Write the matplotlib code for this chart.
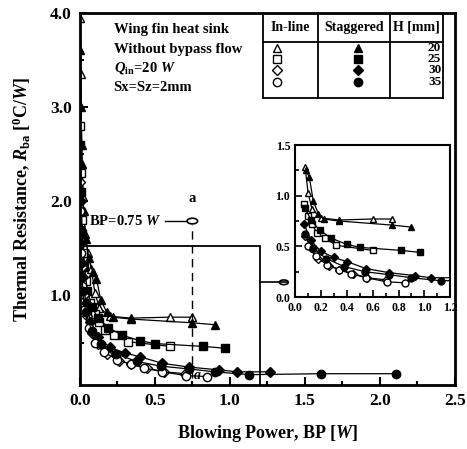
import matplotlib
matplotlib.use("Agg")
from matplotlib import pyplot as plt
from matplotlib.patches import Rectangle, Ellipse
from matplotlib.ticker import MultipleLocator

plt.rcParams['font.family'] = ['Liberation Serif', 'DejaVu Serif']
plt.rcParams['font.weight'] = 'bold'
plt.rcParams['mathtext.fontset'] = 'custom'
plt.rcParams['mathtext.it'] = 'Liberation Serif:italic:bold'
plt.rcParams['mathtext.rm'] = 'Liberation Serif:bold'

# H = 20 mm
tri_in_x = [0.003, 0.006, 0.012, 0.02, 0.035, 0.055, 0.077, 0.10, 0.13, 0.20, 0.34, 0.60, 0.75]
tri_in_y = [3.95, 3.35, 2.6, 2.05, 1.65, 1.45, 1.28, 1.03, 0.87, 0.78, 0.76, 0.77, 0.77]
tri_st_x = [0.004, 0.008, 0.015, 0.025, 0.04, 0.06, 0.085, 0.11, 0.14, 0.18, 0.22, 0.34, 0.75, 0.90]
tri_st_y = [3.6, 3.0, 2.4, 1.9, 1.6, 1.4, 1.25, 1.18, 0.95, 0.82, 0.77, 0.75, 0.71, 0.69]
# H = 25 mm
sq_in_x = [0.003, 0.006, 0.012, 0.022, 0.04, 0.07, 0.10, 0.13, 0.17, 0.23, 0.32, 0.60]
sq_in_y = [2.8, 2.3, 1.8, 1.45, 1.15, 0.92, 0.80, 0.72, 0.63, 0.58, 0.51, 0.46]
sq_st_x = [0.004, 0.008, 0.016, 0.03, 0.05, 0.08, 0.12, 0.19, 0.28, 0.40, 0.50, 0.82, 0.97]
sq_st_y = [2.6, 2.1, 1.65, 1.3, 1.05, 0.88, 0.76, 0.66, 0.58, 0.52, 0.49, 0.46, 0.44]
# H = 30 mm
di_in_x = [0.003, 0.007, 0.014, 0.025, 0.045, 0.08, 0.12, 0.18, 0.26, 0.34, 0.45, 0.56, 0.70]
di_in_y = [2.2, 1.7, 1.3, 1.0, 0.78, 0.6, 0.48, 0.38, 0.31, 0.27, 0.23, 0.19, 0.17]
di_st_x = [0.005, 0.01, 0.02, 0.04, 0.07, 0.12, 0.2, 0.30, 0.40, 0.55, 0.73, 0.93, 1.05, 1.27]
di_st_y = [2.0, 1.55, 1.2, 0.92, 0.72, 0.56, 0.45, 0.39, 0.35, 0.28, 0.24, 0.21, 0.19, 0.19]
# H = 35 mm
ci_in_x = [0.004, 0.008, 0.016, 0.03, 0.06, 0.10, 0.16, 0.25, 0.34, 0.43, 0.55, 0.71, 0.85]
ci_in_y = [1.9, 1.45, 1.1, 0.85, 0.65, 0.5, 0.40, 0.32, 0.27, 0.23, 0.19, 0.15, 0.14]
ci_st_x = [0.005, 0.01, 0.02, 0.04, 0.08, 0.14, 0.24, 0.38, 0.54, 0.73, 0.90, 1.13, 1.61, 2.11]
ci_st_y = [1.7, 1.35, 1.05, 0.82, 0.62, 0.48, 0.38, 0.30, 0.25, 0.22, 0.19, 0.16, 0.17, 0.17]

series = [
    (tri_in_x, tri_in_y, '^', 'white'), (tri_st_x, tri_st_y, '^', 'black'),
    (sq_in_x, sq_in_y, 's', 'white'), (sq_st_x, sq_st_y, 's', 'black'),
    (di_in_x, di_in_y, 'D', 'white'), (di_st_x, di_st_y, 'D', 'black'),
    (ci_in_x, ci_in_y, 'o', 'white'), (ci_st_x, ci_st_y, 'o', 'black'),
]
H_labels = ['20', '25', '30', '35']

fig = plt.figure(figsize=(4.67, 4.49), dpi=100)
ax = fig.add_axes([0.171, 0.1425, 0.803, 0.829])

def draw(a, ms, xmin=0.0):
    for xs, ys, m, fc in series:
        px = [x for x in xs if x >= xmin]
        py = [y for x, y in zip(xs, ys) if x >= xmin]
        a.plot(px, py, color='black', lw=0.9, marker=m, markersize=ms if m != 'D' else ms - 1,
               markerfacecolor=fc, markeredgecolor='black', markeredgewidth=1.0)

draw(ax, 6)
ax.set_xlim(0, 2.5)
ax.set_ylim(0.05, 4.0)
ax.set_xticks([0.0, 0.5, 1.0, 1.5, 2.0, 2.5])
ax.set_xticklabels(['0.0', '0.5', '1.0', '1.5', '2.0', '2.5'])
ax.xaxis.set_minor_locator(MultipleLocator(0.25))
ax.set_yticks([1.0, 2.0, 3.0, 4.0])
ax.set_yticklabels(['1.0', '2.0', '3.0', '4.0'])
ax.yaxis.set_minor_locator(MultipleLocator(0.5))
ax.tick_params(direction='in', which='both', labelsize=12.5, width=1.5, top=False, right=False, pad=6)
ax.tick_params(which='major', length=6)
ax.tick_params(which='minor', length=3)
for s in ax.spines.values():
    s.set_linewidth(2)
ax.set_xlabel('Blowing Power, BP [$\\mathit{W}$]', fontsize=13, fontweight='bold', labelpad=10)
ax.set_ylabel('Thermal Resistance, $\\mathit{R}_{\\mathrm{ba}}$ [$^{\\mathrm{0}}$C/$\\mathit{W}$]',
              fontsize=13, fontweight='bold', labelpad=12)

# zoom rectangle and markers
ax.add_patch(Rectangle((0, 0), 1.2, 1.52, fill=False, lw=1.3, ec='black', clip_on=True))
ax.plot([0.75, 0.75], [0.12, 1.75], color='black', lw=1.0, ls=(0, (6, 4)))
ax.add_patch(Ellipse((0.75, 1.79), 0.07, 0.06, fill=False, lw=1.2, ec='black'))
ax.plot([0.57, 0.71], [1.79, 1.79], color='black', lw=1.0)
ax.text(0.06, 1.79, 'BP=0.75 $\\mathit{W}$', fontsize=10.5, va='center', ha='left')
ax.text(0.75, 1.96, 'a', fontsize=10.5, ha='center', va='bottom')
ax.text(0.76, 0.08, 'a', fontsize=10, ha='left', va='bottom', style='italic')
ax.plot([1.2, 1.38], [1.14, 1.14], color='black', lw=1.2)
ax.add_patch(Ellipse((1.36, 1.14), 0.06, 0.05, fill=False, lw=1.2, ec='black'))

# annotation text
ax.text(0.09, 0.945, 'Wing fin heat sink', transform=ax.transAxes, fontsize=10.5)
ax.text(0.09, 0.893, 'Without bypass flow', transform=ax.transAxes, fontsize=10.5)
ax.text(0.09, 0.841, '$\\mathit{Q}_{\\mathrm{in}}$=20 $\\mathit{W}$', transform=ax.transAxes, fontsize=10.5)
ax.text(0.09, 0.789, 'Sx=Sz=2mm', transform=ax.transAxes, fontsize=10.5)

# legend table
tx0, tx1, tx2, tx3 = 0.488, 0.635, 0.827, 0.968
ty0, ty1, ty2 = 1.0, 0.922, 0.772
for xx in [tx0, tx1, tx2, tx3]:
    ax.plot([xx, xx], [ty2, ty0], color='black', lw=1.3, transform=ax.transAxes)
for yy in [ty0, ty1, ty2]:
    ax.plot([tx0, tx3], [yy, yy], color='black', lw=1.3, transform=ax.transAxes)
ax.text((tx0 + tx1) / 2, (ty0 + ty1) / 2, 'In-line', transform=ax.transAxes, ha='center', va='center', fontsize=10)
ax.text((tx1 + tx2) / 2, (ty0 + ty1) / 2, 'Staggered', transform=ax.transAxes, ha='center', va='center', fontsize=10)
ax.text((tx2 + tx3) / 2, (ty0 + ty1) / 2, 'H [mm]', transform=ax.transAxes, ha='center', va='center', fontsize=10)
row_y = [0.906, 0.876, 0.846, 0.814]
for i, yy in enumerate(row_y):
    m = series[2 * i][2]
    ax.plot([0.525], [yy], marker=m, markersize=6 if m != 'D' else 5, mfc='white', mec='black',
            mew=1.0, transform=ax.transAxes, clip_on=False)
    ax.plot([0.741], [yy], marker=m, markersize=6 if m != 'D' else 5, mfc='black', mec='black',
            transform=ax.transAxes, clip_on=False)
    ax.text(0.946, yy, H_labels[i], transform=ax.transAxes, ha='center', va='center', fontsize=9.5)

# inset
ins = fig.add_axes([0.632, 0.3385, 0.332, 0.3385])
draw(ins, 5, xmin=0.07)
ins.set_xlim(0, 1.2)
ins.set_ylim(0, 1.5)
ins.set_xticks([0.0, 0.2, 0.4, 0.6, 0.8, 1.0, 1.2])
ins.set_xticklabels(['0.0', '0.2', '0.4', '0.6', '0.8', '1.0', '1.2'])
ins.xaxis.set_minor_locator(MultipleLocator(0.1))
ins.set_yticks([0.0, 0.5, 1.0, 1.5])
ins.set_yticklabels(['0.0', '0.5', '1.0', '1.5'])
ins.yaxis.set_minor_locator(MultipleLocator(0.25))
ins.tick_params(direction='in', which='both', labelsize=8.5, width=1.2, top=False, right=False)
ins.tick_params(which='major', length=5)
ins.tick_params(which='minor', length=3)
for s in ins.spines.values():
    s.set_linewidth(1.5)

fig.savefig('out.png', dpi=100)
